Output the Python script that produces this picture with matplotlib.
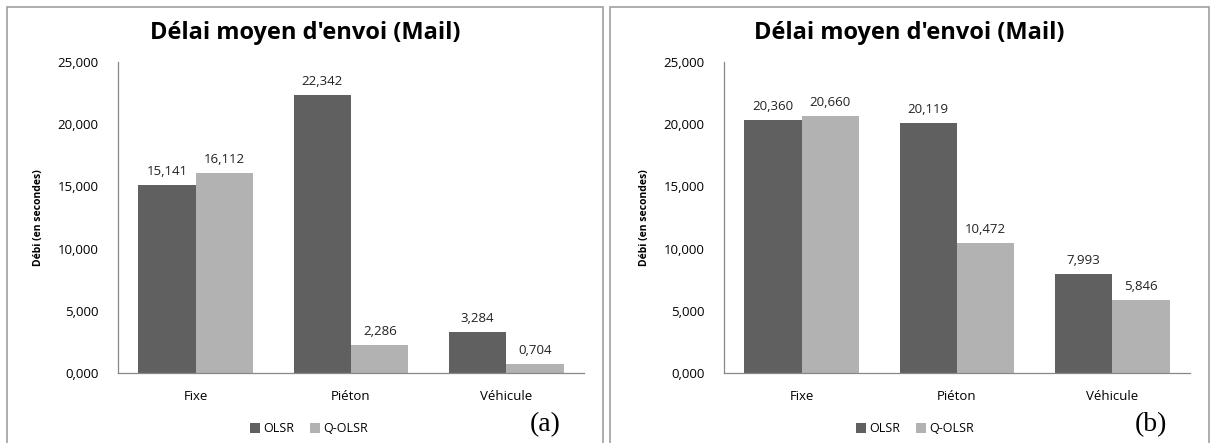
import matplotlib.pyplot as plt
import matplotlib.patches as mpatches
import numpy as np

categories = ["Fixe", "Piéton", "Véhicule"]
series_names = ["OLSR", "Q-OLSR"]
olsr_a = [15.141, 22.342, 3.284]
qolsr_a = [16.112, 2.286, 0.704]
olsr_b = [20.360, 20.119, 7.993]
qolsr_b = [20.660, 10.472, 5.846]
yticks = [0, 5, 10, 15, 20, 25]

dark = "#606060"
light = "#b2b2b2"
W, H = 1212, 443

plt.rcParams['font.family'] = ['Open Sans', 'DejaVu Sans']

fig = plt.figure(figsize=(W / 100, H / 100), dpi=100)
fig.patch.set_facecolor("white")


def fmt(v):
    return f"{v:.3f}".replace(".", ",")


def panel(x0, olsr, qolsr, letter, box):
    # panel frame
    fig.patches.append(mpatches.Rectangle((box[0] / W, -0.05), (box[1] - box[0]) / W, 1 - box[2] / H + 0.05,
                                          transform=fig.transFigure, fill=False,
                                          edgecolor="#a0a0a0", linewidth=1.2))
    ax = fig.add_axes([x0 / W, 1 - 373 / H, 466 / W, (373 - 62) / H])
    x = np.arange(len(categories))
    w = 0.37
    b1 = ax.bar(x - w / 2, olsr, w, color=dark, label=series_names[0])
    b2 = ax.bar(x + w / 2, qolsr, w, color=light, label=series_names[1])
    for bars, vals in ((b1, olsr), (b2, qolsr)):
        for r, v in zip(bars, vals):
            ax.annotate(fmt(v), (r.get_x() + r.get_width() / 2, v), xytext=(0, 5),
                        textcoords="offset points", ha="center", va="bottom",
                        fontsize=9.5, color="#222222")
    ax.set_xlim(-0.5, 2.5)
    ax.set_ylim(0, 25)
    ax.set_yticks(yticks)
    ax.set_yticklabels([fmt(t) for t in yticks], fontsize=9.5)
    ax.set_xticks(x)
    ax.set_xticklabels(categories, fontsize=9.5)
    ax.tick_params(axis="x", length=0, pad=12)
    ax.tick_params(axis="y", length=0, pad=14)
    for s in ("top", "right"):
        ax.spines[s].set_visible(False)
    for s in ("left", "bottom"):
        ax.spines[s].set_color("#888888")
        ax.spines[s].set_linewidth(0.9)
    ax.set_ylabel("Débi (en secondes)", fontsize=7.5, fontweight="bold", labelpad=10)
    cx = (box[0] + box[1]) / 2
    fig.text(cx / W, 1 - 33 / H, "Délai moyen d'envoi (Mail)", fontsize=17,
             fontweight="bold", ha="center", va="center")
    ax.legend(loc="center", bbox_to_anchor=(0.41, -0.18), ncol=2, frameon=False,
              fontsize=9, handlelength=0.8, handleheight=0.8, handletextpad=0.3,
              columnspacing=1.2)
    fig.text((x0 + 427) / W, 1 - 425 / H, letter, family="Liberation Serif",
             fontsize=20, ha="center", va="center")
    return ax


panel(118, olsr_a, qolsr_a, "(a)", (7, 603, 7))
panel(724, olsr_b, qolsr_b, "(b)", (610, 1209, 7))

fig.savefig("out.png", dpi=100)
